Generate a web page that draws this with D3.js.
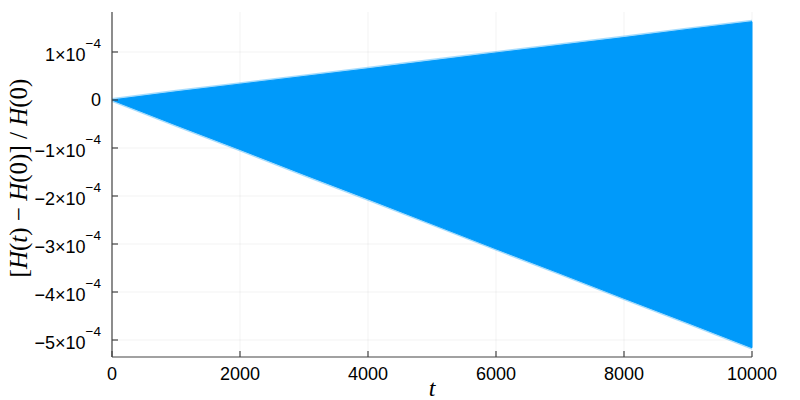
<!DOCTYPE html>
<html><head><meta charset="utf-8">
<script src="https://cdn.jsdelivr.net/npm/d3@7"></script>
<style>body{margin:0;background:#fff}svg{display:block}</style>
</head><body>
<svg id="c" width="800" height="400"></svg>
<script>
// Data: envelope of the oscillating relative energy error, sampled along t
const tValues = [0, 1000, 2000, 3000, 4000, 5000, 6000, 7000, 8000, 9000, 10000];
const upperEnv = [0, 0.17e-4, 0.33e-4, 0.49e-4, 0.65e-4, 0.815e-4, 0.98e-4, 1.14e-4, 1.30e-4, 1.47e-4, 1.63e-4];
const lowerEnv = [0, -0.52e-4, -1.03e-4, -1.55e-4, -2.06e-4, -2.58e-4, -3.10e-4, -3.61e-4, -4.13e-4, -4.64e-4, -5.16e-4];
const xTicks = [0, 2000, 4000, 6000, 8000, 10000];
const yTicks = [1e-4, 0, -1e-4, -2e-4, -3e-4, -4e-4, -5e-4];
const yTickMant = ["1", "0", "\u22121", "\u22122", "\u22123", "\u22124", "\u22125"];

const svg = d3.select("#c");
const L = 112, R = 752, T = 12, B = 357;
const x = d3.scaleLinear().domain([0, 10000]).range([L, R]);
const y = d3.scaleLinear().domain([-5.354e-4, 1.833e-4]).range([B, T]);

// grid
svg.append("g").selectAll("line").data(xTicks).join("line")
  .attr("x1", d => x(d)).attr("x2", d => x(d)).attr("y1", T).attr("y2", B)
  .attr("stroke", "#000").attr("stroke-opacity", 0.1).attr("stroke-width", 0.5);
svg.append("g").selectAll("line").data(yTicks).join("line")
  .attr("x1", L).attr("x2", R).attr("y1", d => y(d)).attr("y2", d => y(d))
  .attr("stroke", "#000").attr("stroke-opacity", 0.1).attr("stroke-width", 0.5);

// band (with a faint anti-aliased fringe like the dense oscillation edge)
const pts = tValues.map((t, i) => ({t, hi: upperEnv[i], lo: lowerEnv[i]}));
svg.append("path").datum(pts)
  .attr("d", d3.area().x(d => x(d.t)).y0(d => y(d.lo) + 2).y1(d => y(d.hi) - 2))
  .attr("fill", "#009AFA").attr("fill-opacity", 0.35);
svg.append("path").datum(pts)
  .attr("d", d3.area().x(d => x(d.t)).y0(d => y(d.lo)).y1(d => y(d.hi)))
  .attr("fill", "#009AFA").attr("stroke", "#009AFA").attr("stroke-width", 1);

// axes
const ax = svg.append("g").attr("fill", "none").attr("stroke", "#444").attr("stroke-width", 1.2);
ax.append("line").attr("x1", L).attr("x2", L).attr("y1", T).attr("y2", B);
ax.append("line").attr("x1", L).attr("x2", R).attr("y1", B).attr("y2", B);
ax.selectAll(".xt").data(xTicks).join("line").attr("class", "xt")
  .attr("x1", d => x(d)).attr("x2", d => x(d)).attr("y1", B).attr("y2", B - 6);
ax.selectAll(".yt").data(yTicks).join("line").attr("class", "yt")
  .attr("x1", L).attr("x2", L + 6).attr("y1", d => y(d)).attr("y2", d => y(d));

const font = "Liberation Sans, Arial, sans-serif";
svg.append("g").selectAll("text").data(xTicks).join("text")
  .attr("x", d => x(d)).attr("y", B + 23).attr("text-anchor", "middle")
  .attr("font-family", font).attr("font-size", 18).attr("fill", "#000")
  .text(d => d);

const yl = svg.append("g").selectAll("text").data(yTicks).join("text")
  .attr("x", L - 11).attr("y", d => y(d) + (d === 0 ? 6.5 : 8.7)).attr("text-anchor", "end")
  .attr("font-family", font).attr("font-size", 18).attr("fill", "#000");
yl.each(function(d, i) {
  const t = d3.select(this);
  if (d === 0) { t.text("0"); return; }
  t.append("tspan").text(yTickMant[i] + "\u00d710");
  t.append("tspan").attr("dy", -13).attr("font-size", 13.5).text("\u22124");
});

// labels
svg.append("text").attr("x", 432).attr("y", 396).attr("text-anchor", "middle")
  .attr("font-family", "Liberation Serif, serif").attr("font-style", "italic")
  .attr("font-size", 24).text("t");

const yLab = svg.append("text")
  .attr("transform", "translate(27,178) rotate(-90)").attr("text-anchor", "middle")
  .attr("font-family", "Liberation Serif, serif").attr("font-size", 25);
yLab.append("tspan").text("[");
yLab.append("tspan").attr("font-style", "italic").text("H");
yLab.append("tspan").text("(");
yLab.append("tspan").attr("font-style", "italic").text("t");
yLab.append("tspan").text(") \u2212 ");
yLab.append("tspan").attr("font-style", "italic").text("H");
yLab.append("tspan").text("(0)] / ");
yLab.append("tspan").attr("font-style", "italic").text("H");
yLab.append("tspan").text("(0)");
</script>
</body></html>
